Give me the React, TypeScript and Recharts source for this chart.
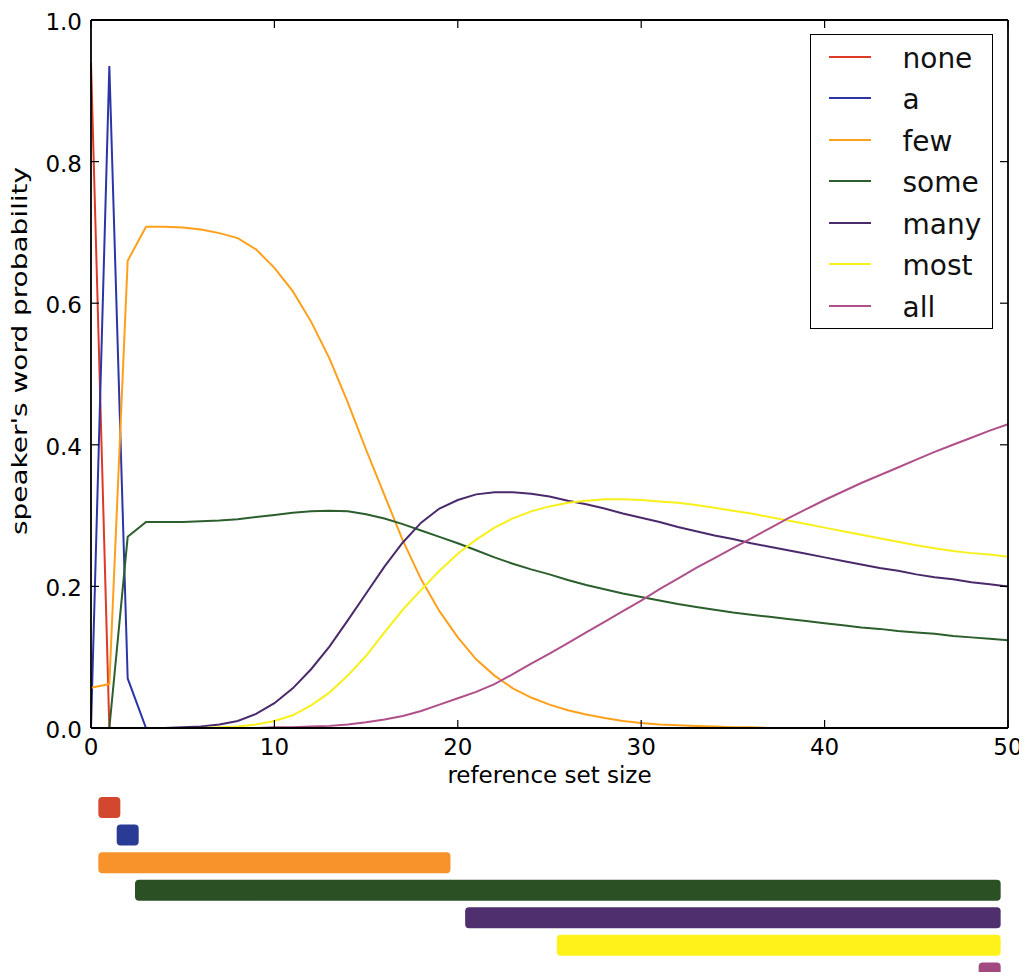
import React from 'react';
import { LineChart, Line, XAxis, YAxis, Legend, Label, BarChart, Bar, Cell } from 'recharts';

const FONT = '"DejaVu Sans", sans-serif';
const TICK = 8;
const spine = { stroke: '#000', strokeWidth: 1.8 };

const words = ['none', 'a', 'few', 'some', 'many', 'most', 'all'];
const lineColors = ['#dd3a26', '#2b35a6', '#ffa01c', '#2d5e2d', '#4a2a6b', '#f7f01a', '#b0508a'];
const barColors = ['#d4472f', '#2a3b96', '#f8922a', '#2a5024', '#4f2f6e', '#fff21a', '#a24a7f'];

const setSizes = [
  0, 1, 2, 3, 4, 5, 6, 7, 8, 9, 10, 11, 12, 13, 14, 15, 16, 17, 18, 19, 20, 21, 22, 23, 24, 25,
  26, 27, 28, 29, 30, 31, 32, 33, 34, 35, 36, 37, 38, 39, 40, 41, 42, 43, 44, 45, 46, 47, 48, 49, 50,
];

const pNone = [
  0.94, 0, 0, 0, 0, 0, 0, 0, 0, 0, 0, 0, 0, 0, 0, 0, 0, 0, 0, 0, 0, 0, 0, 0, 0, 0,
  0, 0, 0, 0, 0, 0, 0, 0, 0, 0, 0, 0, 0, 0, 0, 0, 0, 0, 0, 0, 0, 0, 0, 0, 0,
];
const pA = [
  0, 0.935, 0.07, 0, 0, 0, 0, 0, 0, 0, 0, 0, 0, 0, 0, 0, 0, 0, 0, 0, 0, 0, 0, 0, 0, 0,
  0, 0, 0, 0, 0, 0, 0, 0, 0, 0, 0, 0, 0, 0, 0, 0, 0, 0, 0, 0, 0, 0, 0, 0, 0,
];
const pFew = [
  0.057, 0.062, 0.66, 0.708, 0.708, 0.707, 0.704, 0.699, 0.692, 0.676, 0.65, 0.617, 0.574,
  0.522, 0.46, 0.393, 0.329, 0.265, 0.21, 0.165, 0.128, 0.097, 0.074, 0.056, 0.043, 0.033,
  0.025, 0.019, 0.014, 0.01, 0.007, 0.005, 0.004, 0.003, 0.002, 0.001, 0.001, 0, 0, 0, 0,
  0, 0, 0, 0, 0, 0, 0, 0, 0, 0,
];
const pSome = [
  0, 0, 0.27, 0.291, 0.291, 0.291, 0.292, 0.293, 0.295, 0.298, 0.301, 0.304, 0.306, 0.307,
  0.306, 0.302, 0.296, 0.288, 0.279, 0.27, 0.261, 0.251, 0.241, 0.232, 0.224, 0.217, 0.209,
  0.202, 0.196, 0.19, 0.185, 0.18, 0.175, 0.171, 0.167, 0.163, 0.16, 0.157, 0.154, 0.151,
  0.148, 0.145, 0.142, 0.14, 0.137, 0.135, 0.133, 0.13, 0.128, 0.126, 0.124,
];
const pMany = [
  0, 0, 0, 0, 0, 0.001, 0.002, 0.005, 0.01, 0.02, 0.035, 0.056, 0.083, 0.115, 0.152, 0.19,
  0.228, 0.262, 0.29, 0.31, 0.322, 0.33, 0.333, 0.333, 0.331, 0.327, 0.321, 0.316, 0.31,
  0.303, 0.297, 0.291, 0.284, 0.278, 0.272, 0.267, 0.261, 0.256, 0.251, 0.246, 0.241, 0.236,
  0.231, 0.226, 0.222, 0.217, 0.213, 0.21, 0.206, 0.203, 0.2,
];
const pMost = [
  0, 0, 0, 0, 0, 0, 0, 0.001, 0.002, 0.005, 0.01, 0.018, 0.032, 0.05, 0.074, 0.102, 0.135,
  0.167, 0.195, 0.222, 0.246, 0.266, 0.283, 0.296, 0.306, 0.313, 0.318, 0.321, 0.323, 0.323,
  0.322, 0.32, 0.318, 0.315, 0.311, 0.307, 0.303, 0.298, 0.293, 0.288, 0.283, 0.278, 0.273,
  0.268, 0.263, 0.258, 0.254, 0.25, 0.247, 0.245, 0.242,
];
const pAll = [
  0, 0, 0, 0, 0, 0, 0, 0, 0, 0, 0.001, 0.001, 0.002, 0.003, 0.005, 0.008, 0.012, 0.017,
  0.024, 0.033, 0.042, 0.051, 0.062, 0.076, 0.091, 0.105, 0.12, 0.135, 0.15, 0.165, 0.18,
  0.196, 0.211, 0.226, 0.24, 0.254, 0.268, 0.282, 0.296, 0.309, 0.322, 0.334, 0.346, 0.357,
  0.368, 0.379, 0.39, 0.4, 0.41, 0.42, 0.429,
];

// set sizes where each word is used (first / last)
const rangeLo = [1, 2, 1, 3, 21, 26, 49];
const rangeHi = [1, 2, 19, 49, 49, 49, 49];
const BAR_PAD = 0.6;

const xTicks = [0, 10, 20, 30, 40, 50];
const yTicks = [0, 0.2, 0.4, 0.6, 0.8, 1.0];

const series = [pNone, pA, pFew, pSome, pMany, pMost, pAll];

const lineData = setSizes.map((n, i) => {
  const row: any = { n };
  words.forEach((w, k) => {
    row[w] = series[k][i];
  });
  return row;
});

const barData = words.map((w, i) => ({ word: w, span: [rangeLo[i] - BAR_PAD, rangeHi[i] + BAR_PAD] }));

const BottomTick = (props: any) => {
  const { x, y, payload } = props;
  return (
    <g>
      <line x1={x} y1={y} x2={x} y2={y - TICK} stroke="#000" strokeWidth={1.2} />
      <text x={x} y={y + 27} textAnchor="middle" fontSize={23} fontFamily={FONT} fill="#000">
        {payload.value}
      </text>
    </g>
  );
};

const TopTick = (props: any) => {
  const { x, y } = props;
  return <line x1={x} y1={y} x2={x} y2={y + TICK} stroke="#000" strokeWidth={1.2} />;
};

const LeftTick = (props: any) => {
  const { x, y, payload } = props;
  return (
    <g>
      <line x1={x} y1={y} x2={x + TICK} y2={y} stroke="#000" strokeWidth={1.2} />
      <text x={x - 9} y={y + 10} textAnchor="end" fontSize={23} fontFamily={FONT} fill="#000">
        {Number(payload.value).toFixed(1)}
      </text>
    </g>
  );
};

const RightTick = (props: any) => {
  const { x, y } = props;
  return <line x1={x} y1={y} x2={x - TICK} y2={y} stroke="#000" strokeWidth={1.2} />;
};

const LegendBox = () => (
  <div
    style={{
      boxSizing: 'border-box',
      width: 183,
      height: 295,
      border: '1.5px solid #000',
      background: '#fff',
      paddingTop: 0.75,
      fontFamily: FONT,
    }}
  >
    {words.map((w, i) => (
      <div key={w} style={{ position: 'relative', height: 41.5 }}>
        <div
          style={{
            position: 'absolute',
            left: 17.5,
            top: 'calc(50% - 1px)',
            width: 42,
            height: 2,
            background: lineColors[i],
          }}
        />
        <div
          style={{
            position: 'absolute',
            left: 91.5,
            top: 'calc(50% - 12px)',
            fontSize: 28,
            lineHeight: 1,
            color: '#111',
            whiteSpace: 'nowrap',
          }}
        >
          {w}
        </div>
      </div>
    ))}
  </div>
);

export default function App() {
  return (
    <div
      style={{
        position: 'relative',
        width: 1019,
        height: 972,
        marginBottom: -8,
        overflow: 'hidden',
        background: '#fff',
      }}
    >
      <div style={{ position: 'absolute', left: 0, top: 0 }}>
        <LineChart width={1019} height={790} data={lineData} margin={{ top: 11, right: 18, bottom: 0, left: 0 }}>
          <XAxis
            dataKey="n"
            type="number"
            domain={[0, 50]}
            ticks={xTicks}
            interval={0}
            tickSize={0}
            tickMargin={0}
            tickLine={false}
            axisLine={spine}
            tick={<BottomTick />}
            height={70}
          >
            <Label
              content={() => (
                <text x={541.5} y={775} textAnchor="middle" fontSize={23} fontFamily={FONT} fill="#000">
                  reference set size
                </text>
              )}
            />
          </XAxis>
          <XAxis
            xAxisId="top"
            dataKey="n"
            orientation="top"
            type="number"
            domain={[0, 50]}
            ticks={xTicks}
            interval={0}
            tickSize={0}
            tickMargin={0}
            tickLine={false}
            axisLine={spine}
            tick={<TopTick />}
            height={1}
          />
          <YAxis
            type="number"
            domain={[0, 1]}
            ticks={yTicks}
            interval={0}
            tickSize={0}
            tickMargin={0}
            tickLine={false}
            axisLine={spine}
            tick={<LeftTick />}
            width={83}
          >
            <Label
              content={() => (
                <text
                  x={19}
                  y={343}
                  transform="rotate(-90, 19, 343)"
                  textAnchor="middle"
                  fontSize={21}
                  fontFamily={FONT}
                  fill="#000"
                  textLength={368}
                  lengthAdjust="spacingAndGlyphs"
                >
                  speaker's word probability
                </text>
              )}
            />
          </YAxis>
          <YAxis
            yAxisId="right"
            orientation="right"
            type="number"
            domain={[0, 1]}
            ticks={yTicks}
            interval={0}
            tickSize={0}
            tickMargin={0}
            tickLine={false}
            axisLine={spine}
            tick={<RightTick />}
            width={1}
          />
          <Legend
            layout="horizontal"
            verticalAlign="middle"
            align="center"
            content={() => <LegendBox />}
            wrapperStyle={{ left: 802, top: 26, width: 183, height: 295 }}
          />
          {words.map((w, i) => {
            const last = i === words.length - 1;
            return (
              <Line
                key={w}
                type="linear"
                dataKey={w}
                xAxisId={last ? 'top' : 0}
                yAxisId={last ? 'right' : 0}
                stroke={lineColors[i]}
                strokeWidth={2}
                dot={false}
                activeDot={false}
                isAnimationActive={false}
              />
            );
          })}
        </LineChart>
      </div>
      <div style={{ position: 'absolute', left: 0, top: 786 }}>
        <BarChart
          layout="vertical"
          width={1019}
          height={193}
          data={barData}
          margin={{ top: 0, right: 19, bottom: 0, left: 83 }}
          barSize={21}
        >
          <XAxis type="number" domain={[0, 50]} hide />
          <YAxis type="category" dataKey="word" hide />
          <Bar dataKey="span" radius={4} isAnimationActive={false}>
            {barData.map((d, i) => (
              <Cell key={d.word} fill={barColors[i]} />
            ))}
          </Bar>
        </BarChart>
      </div>
    </div>
  );
}
